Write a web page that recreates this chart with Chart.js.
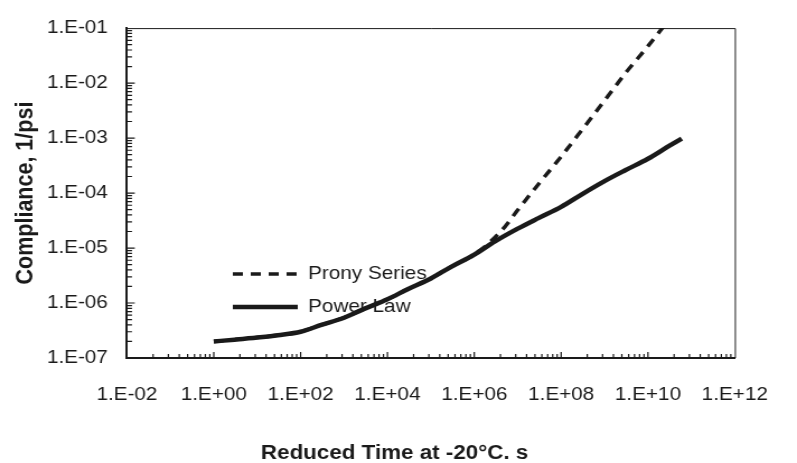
<!DOCTYPE html>
<html>
<head>
<meta charset="utf-8">
<title>Creep compliance</title>
<script src="https://cdn.jsdelivr.net/npm/chart.js@4.4.1/dist/chart.umd.min.js"></script>
<style>
  html, body { margin: 0; padding: 0; background: #fff; }
  #complianceChart { display: block; }
</style>
</head>
<body>
<!-- drawn at 712 wide and shown at 797, the figure is a little wide in print -->
<canvas id="complianceChart" width="712" height="463" style="width:797px;height:463px"></canvas>
<script>
// Reduced time, s
const powerTime = [1, 3, 10, 30, 100, 300, 1e3, 3e3, 1e4, 3e4, 1e5, 3e5, 1e6, 3e6, 1e7, 3e7, 1e8, 3e8, 1e9, 3e9, 1e10, 3e10, 6e10];
const pronyTime = [1, 3, 10, 30, 100, 300, 1e3, 3e3, 1e4, 3e4, 1e5, 3e5, 1e6, 2e6, 5e6, 1e7, 3e7, 1e8, 3e8, 1e9, 3e9, 1e10, 3e10];

// Compliance, 1/psi
const powerLaw = [2.0e-7, 2.15e-7, 2.35e-7, 2.6e-7, 3.0e-7, 4.0e-7, 5.4e-7, 7.9e-7, 1.17e-6, 1.8e-6, 2.8e-6, 4.6e-6,
  7.6e-6, 1.32e-5, 2.25e-5, 3.5e-5, 5.6e-5, 9.5e-5, 1.65e-4, 2.6e-4, 4.2e-4, 7.1e-4, 9.8e-4];
const pronySeries = [2.0e-7, 2.15e-7, 2.35e-7, 2.6e-7, 3.0e-7, 4.0e-7, 5.4e-7, 7.9e-7, 1.17e-6, 1.8e-6, 2.8e-6, 4.6e-6,
  7.6e-6, 1.17e-5, 2.4e-5, 4.9e-5, 1.45e-4, 4.6e-4, 1.4e-3, 4.8e-3, 1.5e-2, 4.7e-2, 1.4e-1];

// Labelled axis values
const xTicks = [1e-2, 1e0, 1e2, 1e4, 1e6, 1e8, 1e10, 1e12];
const yTicks = [1e-7, 1e-6, 1e-5, 1e-4, 1e-3, 1e-2, 1e-1];

const ink = '#1a1a1a';
const family = '"Liberation Sans", Arial, Helvetica, sans-serif';

// 1.E-07 style labels
function sci(v) {
    const e = Math.round(Math.log10(v));
    return '1.E' + (e < 0 ? '-' : '+') + String(Math.abs(e)).padStart(2, '0');
}

// Inward tick marks and the thin top/right frame
const axisMarks = {
    id: 'axisMarks',
    afterDraw(chart) {
        const {ctx, chartArea: a, scales: {x, y}} = chart;
        ctx.save();
        ctx.strokeStyle = ink;
        ctx.lineWidth = 1;
        ctx.beginPath();
        ctx.moveTo(a.left, a.top + 0.5);
        ctx.lineTo(a.right + 0.5, a.top + 0.5);
        ctx.lineTo(a.right + 0.5, a.bottom);
        ctx.stroke();

        ctx.lineWidth = 1.2;
        ctx.beginPath();
        // y: decades plus 2..9 in each decade
        for (let d = -7; d < -1; d++) {
            for (let k = 1; k <= 9; k++) {
                if (k === 1 && d === -7) continue;
                const py = y.getPixelForValue(k * Math.pow(10, d));
                const len = k === 1 ? 7 : 4.5;
                ctx.moveTo(a.left, py);
                ctx.lineTo(a.left + len, py);
            }
        }
        // x: major every two decades, minor at k^2 inside each step
        for (let m = -2; m < 12; m += 2) {
            for (let k = 1; k <= 9; k++) {
                if (k === 1 && m === -2) continue;
                const px = x.getPixelForValue(k * k * Math.pow(10, m));
                const len = k === 1 ? 6 : 4;
                ctx.moveTo(px, a.bottom);
                ctx.lineTo(px, a.bottom - len);
            }
        }
        ctx.stroke();
        ctx.restore();
    }
};

// Legend inside the plot, left of the curves; x title centred on the page
const placeBoxes = {
    id: 'placeBoxes',
    afterLayout(chart) {
        const lg = chart.legend;
        const area = chart.chartArea;
        const pad = lg.options.labels.padding;
        lg.left = 208 - pad;
        lg.top = 274 - 9.25 - pad;
        lg.right = area.right;
        lg.bottom = area.bottom;
        chart.titleBlock.left = 0;
        chart.titleBlock.right = 705;
    }
};

const config = {
    type: 'line',
    data: {
        datasets: [{
            label: 'Prony Series',
            data: pronyTime.map((t, i) => ({x: t, y: pronySeries[i]})),
            borderColor: ink,
            backgroundColor: ink,
            borderWidth: 3.5,
            borderDash: [9, 7],
            pointRadius: 0,
            cubicInterpolationMode: 'monotone',
            clip: 0
        }, {
            label: 'Power Law',
            data: powerTime.map((t, i) => ({x: t, y: powerLaw[i]})),
            borderColor: ink,
            backgroundColor: ink,
            borderWidth: 4.5,
            pointRadius: 0,
            cubicInterpolationMode: 'monotone',
            clip: 0
        }]
    },
    options: {
        responsive: false,
        animation: false,
        layout: {
            padding: {top: 20, right: 31.6, bottom: 0, left: 0}
        },
        plugins: {
            legend: {
                position: 'chartArea',
                align: 'start',
                labels: {
                    usePointStyle: true,
                    pointStyle: 'line',
                    pointStyleWidth: 58,
                    padding: 14.5,
                    color: ink,
                    font: {family: family, size: 18.5},
                    // keep each dataset's dash and width in its legend line
                    generateLabels(chart) {
                        const items = Chart.defaults.plugins.legend.labels.generateLabels(chart);
                        items.forEach(item => {
                            const ds = chart.data.datasets[item.datasetIndex];
                            item.lineDash = ds.borderDash || [];
                            item.lineWidth = ds.borderWidth;
                            item.strokeStyle = ds.borderColor;
                        });
                        return items;
                    }
                }
            },
            title: {
                display: true,
                position: 'bottom',
                text: 'Reduced Time at -20°C. s',
                color: ink,
                font: {family: family, size: 20, weight: 'bold', lineHeight: 1},
                padding: 0
            },
            tooltip: {enabled: false}
        },
        scales: {
            x: {
                type: 'logarithmic',
                min: 1e-2,
                max: 1e12,
                grid: {display: false, drawTicks: false},
                border: {display: true, width: 2, color: ink},
                ticks: {
                    autoSkip: false,
                    maxRotation: 0,
                    padding: 26,
                    color: ink,
                    font: {family: family, size: 18.5},
                    callback: (v) => sci(v)
                },
                afterBuildTicks: (s) => { s.ticks = xTicks.map(v => ({value: v})); },
                afterFit: (s) => { s.height = 85; }
            },
            y: {
                type: 'logarithmic',
                min: 1e-7,
                max: 1e-1,
                grid: {display: false, drawTicks: false},
                border: {display: true, width: 2, color: ink},
                ticks: {
                    autoSkip: false,
                    padding: 17,
                    color: ink,
                    font: {family: family, size: 18.5},
                    callback: (v) => sci(v)
                },
                title: {
                    display: true,
                    text: 'Compliance, 1/psi',
                    color: ink,
                    font: {family: family, size: 21.5, weight: 'bold', lineHeight: 1},
                    padding: {top: 12.5}
                },
                afterBuildTicks: (s) => { s.ticks = yTicks.map(v => ({value: v})); },
                afterFit: (s) => { s.width = 113.4; }
            }
        }
    },
    plugins: [axisMarks, placeBoxes]
};

const ctx = document.getElementById('complianceChart').getContext('2d');
const complianceChart = new Chart(ctx, config);
</script>
</body>
</html>
